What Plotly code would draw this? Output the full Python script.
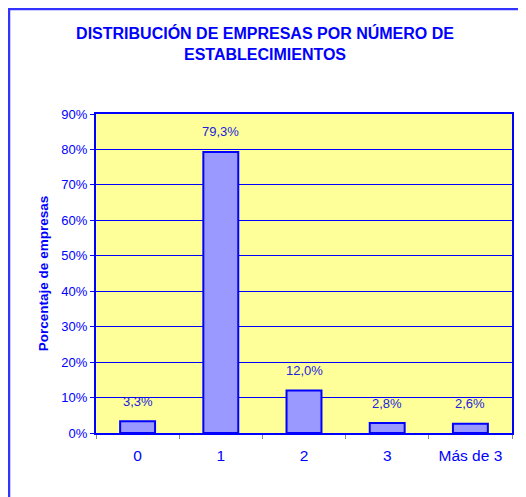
import plotly.graph_objects as go

categories = ["0", "1", "2", "3", "Más de 3"]
values = [3.3, 79.3, 12.0, 2.8, 2.6]
labels = ["3,3%", "79,3%", "12,0%", "2,8%", "2,6%"]
y_ticks = [0, 10, 20, 30, 40, 50, 60, 70, 80, 90]
y_tick_text = ["0%", "10%", "20%", "30%", "40%", "50%", "60%", "70%", "80%", "90%"]

BLUE = "#0000FF"
FONT = "Liberation Sans, Arial, sans-serif"

# page body adds an 8px offset, so the figure is laid out 8px smaller
W, H = 518, 489
L, R, T, B = 88, 504, 106, 425

fig = go.Figure()
fig.add_trace(go.Bar(
    x=categories, y=values,
    width=0.42,
    marker=dict(color="#9999FF", line=dict(color=BLUE, width=2)),
    hoverinfo="skip",
))

# value labels sit a bit above each bar
for c, v, t in zip(categories, values, labels):
    fig.add_annotation(x=c, y=v, text=t, showarrow=False, yshift=20,
                       font=dict(size=13, color="#2222DD", family=FONT))

# outer chart border (runs off the right/bottom edge like the original)
pw, ph = R - L, B - T
fig.add_shape(type="rect", xref="paper", yref="paper",
              x0=(1 - L) / pw, x1=(W + 20 - L) / pw,
              y0=(B - H - 20) / ph, y1=(B - 1) / ph,
              line=dict(color="#3333FF", width=2.5), layer="below")

fig.update_layout(
    width=W, height=H,
    margin=dict(l=L, r=W - R, t=T, b=H - B),
    paper_bgcolor="white",
    plot_bgcolor="#FFFF99",
    showlegend=False,
    title=dict(text="DISTRIBUCIÓN DE EMPRESAS POR NÚMERO DE<br>ESTABLECIMIENTOS",
               x=257 / W, xanchor="center", y=1 - 31 / H, yanchor="middle",
               font=dict(size=16, color=BLUE, family=FONT, weight="bold")),
    font=dict(family=FONT, color=BLUE),
)
fig.update_xaxes(
    type="category", tickson="boundaries", ticks="outside", ticklen=4,
    tickcolor="#888888", showline=True, linecolor=BLUE, linewidth=2, mirror=True,
    showgrid=False, tickfont=dict(size=15.5, color=BLUE), ticklabelstandoff=7,
)
fig.update_yaxes(
    range=[0, 90], tickvals=y_ticks, ticktext=y_tick_text,
    ticks="outside", ticklen=4, tickcolor=BLUE,
    showline=True, linecolor=BLUE, linewidth=2, mirror=True,
    showgrid=True, gridcolor=BLUE, gridwidth=1, zeroline=False,
    tickfont=dict(size=13, color=BLUE),
    title=dict(text="Porcentaje de empresas", standoff=10,
               font=dict(size=13.5, color=BLUE, family=FONT, weight="bold")),
)

fig.write_html("out.html")
